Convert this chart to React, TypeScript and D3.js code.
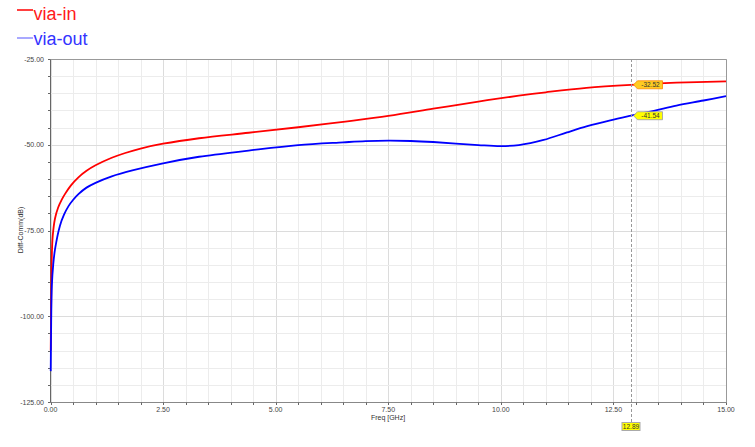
import React from "react";
import * as d3 from "d3";

const seriesNames = ["via-in", "via-out"];
const seriesColors = ["#ff0000", "#0000ff"];
const legendLineColors = ["#ff0000", "#8c8cff"];
const legendTextColors = ["#ff1a1a", "#3434ff"];

const viaIn: [number, number][] = [
  [0.005, -110], [0.02, -90], [0.03, -82], [0.05, -76.5], [0.1, -71.5], [0.17, -68.3], [0.25, -66],
  [0.32, -64.4], [0.45, -61.9], [0.62, -59.5], [0.8, -57.6], [1.0, -56.0], [1.36, -53.8],
  [1.66, -52.4], [2.0, -51.1], [2.5, -49.7], [3.3, -48.1], [4.4, -46.5], [5.5, -44.9],
  [6.5, -43.3], [7.5, -41.6], [8.5, -39.5], [9.5, -37.4], [10.4, -35.7], [11.0, -34.7],
  [11.9, -33.4], [12.89, -32.52], [13.9, -31.9], [15, -31.5],
];

const viaOut: [number, number][] = [
  [0.005, -116], [0.015, -102], [0.03, -91], [0.06, -85], [0.1, -80.5], [0.21, -73.6],
  [0.3, -70.4], [0.4, -67.9], [0.5, -66.1], [0.62, -64.4], [0.8, -62.5], [1.0, -61.1],
  [1.36, -59.2], [1.84, -57.4], [2.5, -55.4],
  [3.3, -53.5], [4.4, -51.7], [5.5, -50.1], [6.5, -49.3], [7.0, -48.95], [7.5, -48.8],
  [8.0, -48.9], [8.5, -49.2], [9.5, -50.1], [10.0, -50.4], [10.4, -50.1], [10.95, -48.6],
  [11.47, -46.4], [11.92, -44.6], [12.43, -42.9], [12.89, -41.54], [13.4, -40.1],
  [13.9, -38.6], [14.5, -37.1], [15, -35.8],
];

const xTickLabels = ["0.00", "2.50", "5.00", "7.50", "10.00", "12.50", "15.00"];
const yTickLabels = ["-25.00", "-50.00", "-75.00", "-100.00", "-125.00"];
const markerFreq = 12.89;
const markerValues = ["-32.52", "-41.54"];
const xTitle = "Freq [GHz]";
const yTitle = "Diff-Comm(dB)";

const W = 755;
const H = 447;

export default function App() {
  const x = d3.scaleLinear().domain([0, 15]).range([50.5, 726]);
  const y = d3.scaleLinear().domain([-125, -25]).range([402, 59]);
  const line = d3
    .line<[number, number]>()
    .x((d) => x(d[0]))
    .y((d) => y(d[1]))
    .curve(d3.curveCatmullRom.alpha(0.5));

  const minorX = d3.range(0, 15.001, 0.5);
  const minorY = d3.range(-125, -24.999, 5);
  const series = [viaIn, viaOut];
  const mx = Math.round(x(markerFreq)) + 0.5;
  const font = "Arial, 'Liberation Sans', sans-serif";

  return (
    <svg width={W} height={H} style={{ position: "absolute", left: 0, top: 0, background: "#fff" }} fontFamily={font}>
      <rect x={0} y={0} width={W} height={H} fill="#fff" />
      {/* legend */}
      {seriesNames.map((n, i) => (
        <g key={n}>
          <line x1={17} x2={33} y1={10 + i * 28} y2={10 + i * 28} stroke={legendLineColors[i]} strokeWidth={1.5} />
          <text x={33.5} y={19.5 + i * 25} fontSize={18} fill={legendTextColors[i]}>{n}</text>
        </g>
      ))}
      {/* grid */}
      {minorX.map((v) => (
        <line key={"gx" + v} x1={Math.round(x(v)) + 0.5} x2={Math.round(x(v)) + 0.5} y1={59} y2={402}
          stroke={v % 2.5 === 0 ? "#dcdcdc" : "#ececec"} strokeWidth={1} />
      ))}
      {minorY.map((v) => (
        <line key={"gy" + v} x1={50.5} x2={726} y1={Math.round(y(v)) + 0.5} y2={Math.round(y(v)) + 0.5}
          stroke={v % 25 === 0 ? "#dcdcdc" : "#ececec"} strokeWidth={1} />
      ))}
      {/* frame */}
      <line x1={50.5} x2={726.5} y1={59.5} y2={59.5} stroke="#999" />
      <line x1={726.5} x2={726.5} y1={59.5} y2={402.5} stroke="#999" />
      <line x1={50.5} x2={50.5} y1={59.5} y2={402.5} stroke="#666" />
      <line x1={50.5} x2={726.5} y1={402.5} y2={402.5} stroke="#888" />
      {/* ticks */}
      {minorX.map((v) => (
        <line key={"tx" + v} x1={Math.round(x(v)) + 0.5} x2={Math.round(x(v)) + 0.5} y1={402.5} y2={405}
          stroke="#666" />
      ))}
      {minorY.map((v) => (
        <line key={"ty" + v} x1={48} x2={50.5} y1={Math.round(y(v)) + 0.5} y2={Math.round(y(v)) + 0.5}
          stroke="#666" />
      ))}
      {xTickLabels.map((t) => (
        <text key={"xl" + t} x={x(+t)} y={412} fontSize={7} fill="#444" textAnchor="middle">{t}</text>
      ))}
      {yTickLabels.map((t) => (
        <text key={"yl" + t} x={44} y={y(+t) + 2.5} fontSize={7} fill="#444" textAnchor="end">{t}</text>
      ))}
      <text x={388} y={420} fontSize={7} fill="#333" textAnchor="middle">{xTitle}</text>
      <text transform={`translate(23,230) rotate(-90)`} fontSize={7} fill="#333" textAnchor="middle">{yTitle}</text>
      {/* curves */}
      {series.map((s, i) => (
        <path key={"s" + i} d={line(s) || ""} fill="none" stroke={seriesColors[i]} strokeWidth={1.8} />
      ))}
      {/* marker */}
      <line x1={mx} x2={mx} y1={59} y2={422} stroke="#999" strokeDasharray="3,2" />
      <rect x={622} y={422.5} width={18} height={8} fill="#ffff00" stroke="#aaa" strokeWidth={1} />
      <text x={631} y={429.3} fontSize={6.5} fill="#333" textAnchor="middle">{markerFreq.toFixed(2)}</text>
      {markerValues.map((mv, i) => {
        const yy = y(+mv);
        const x0 = mx + 2;
        const fill = i === 0 ? "#ffcc22" : "#ffff00";
        const strokeC = i === 0 ? "#ff8800" : "#9999aa";
        const pts = [
          [x0, yy], [x0 + 4, yy - 4], [x0 + 29, yy - 4], [x0 + 29, yy + 4], [x0 + 4, yy + 4],
        ].map((p) => p.join(",")).join(" ");
        return (
          <g key={"m" + i}>
            <polygon points={pts} fill={fill} stroke={strokeC} strokeWidth={0.8} />
            <text x={x0 + 17} y={yy + 2.4} fontSize={6.5} fill="#333" textAnchor="middle">{mv}</text>
          </g>
        );
      })}
    </svg>
  );
}
